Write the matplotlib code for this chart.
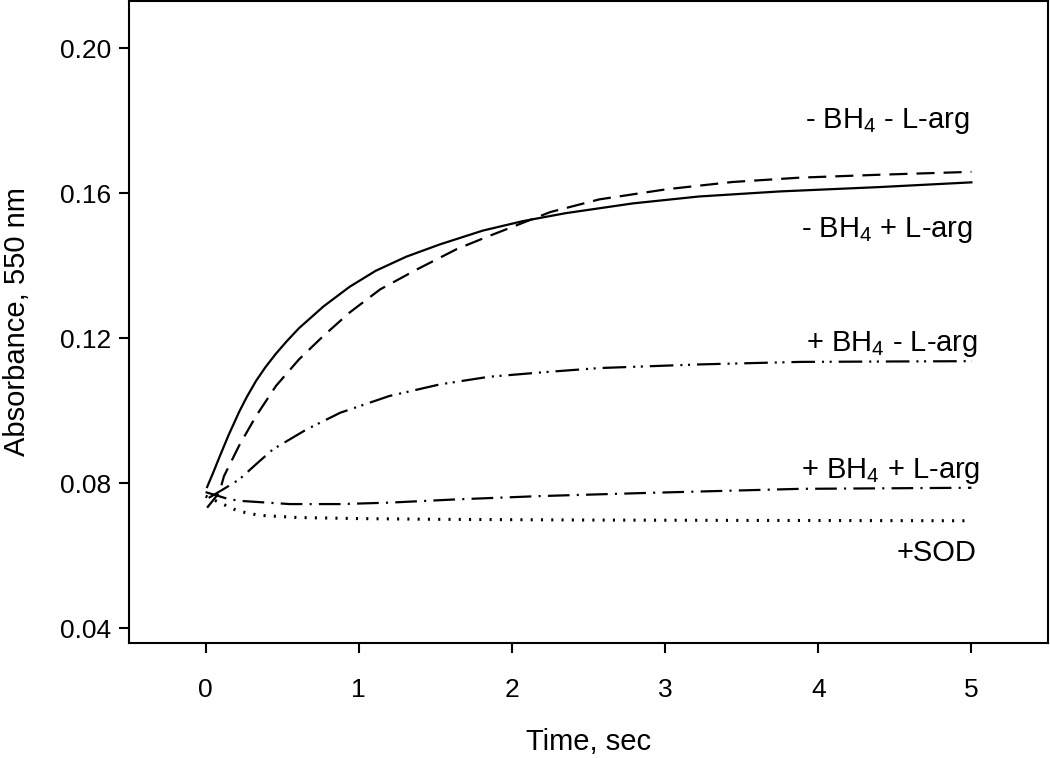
import matplotlib
matplotlib.use("Agg")
import matplotlib.pyplot as plt

plt.rcParams["font.family"] = ["Liberation Sans", "DejaVu Sans"]
plt.rcParams["mathtext.fontset"] = "custom"
plt.rcParams["mathtext.rm"] = "Liberation Sans"
plt.rcParams["mathtext.it"] = "Liberation Sans:italic"
plt.rcParams["mathtext.bf"] = "Liberation Sans:bold"
plt.rcParams["lines.scale_dashes"] = False

# - BH4 + L-arg (solid)
t_solid = [0.01, 0.05, 0.09, 0.15, 0.22, 0.27, 0.33, 0.39, 0.46, 0.53, 0.61,
           0.77, 0.94, 1.11, 1.31, 1.53, 1.81, 2.07, 2.35, 2.79, 3.22, 3.75,
           4.4, 5.0]
a_solid = [0.0790, 0.0830, 0.0872, 0.0933, 0.0998, 0.1039, 0.1083, 0.1120,
           0.1158, 0.1192, 0.1228, 0.1288, 0.1342, 0.1386, 0.1425, 0.1459,
           0.1497, 0.1523, 0.1545, 0.1572, 0.1591, 0.1605, 0.1617, 0.1630]

# - BH4 - L-arg (dashed)
t_dash = [0.01, 0.09, 0.12, 0.22, 0.33, 0.46, 0.61, 0.77, 0.94, 1.14, 1.38,
          1.64, 1.85, 1.96, 2.25, 2.57, 3.01, 3.44, 3.88, 4.4, 5.0]
a_dash = [0.0733, 0.0775, 0.0820, 0.0905, 0.0986, 0.1069, 0.1142, 0.1207,
          0.1271, 0.1335, 0.1390, 0.1446, 0.1482, 0.1500, 0.1548, 0.1583,
          0.1611, 0.1631, 0.1643, 0.1651, 0.1659]

# + BH4 - L-arg (dash dot dot)
t_ddd = [0.02, 0.12, 0.22, 0.33, 0.44, 0.66, 0.88, 1.2, 1.53, 1.85, 2.22,
         2.57, 3.22, 3.88, 4.4, 5.0]
a_ddd = [0.0760, 0.0785, 0.0811, 0.0853, 0.0894, 0.0949, 0.0995, 0.1041,
         0.1073, 0.1094, 0.1107, 0.1118, 0.1128, 0.1135, 0.1136, 0.1137]

# + BH4 + L-arg (dash dot)
t_dd = [0.0, 0.14, 0.22, 0.55, 0.88, 1.2, 1.64, 2.18, 2.9, 3.88, 5.0]
a_dd = [0.0776, 0.0758, 0.0752, 0.0743, 0.0743, 0.0747, 0.0756, 0.0765,
        0.0774, 0.0785, 0.0788]

# +SOD (dotted)
t_sod = [0.0, 0.21, 0.35, 0.6, 1.0, 1.5, 2.5, 3.5, 5.0]
a_sod = [0.0765, 0.0724, 0.0712, 0.0706, 0.0703, 0.0701, 0.0699, 0.0698, 0.0697]

labels = ["- BH$_4$ - L-arg", "- BH$_4$ + L-arg", "+ BH$_4$ - L-arg",
          "+ BH$_4$ + L-arg", "+SOD"]
label_t = [4.99, 5.01, 5.04, 5.06, 5.03]
label_a = [0.1780, 0.1480, 0.1164, 0.0815, 0.0585]

xticks = [0, 1, 2, 3, 4, 5]
yticks = [0.04, 0.08, 0.12, 0.16, 0.20]

fig = plt.figure(figsize=(10.5, 7.58), dpi=100)
ax = fig.add_axes([129 / 1050, 1 - 643 / 758, 919 / 1050, 642 / 758])

lw = 1.6
ax.plot(t_solid, a_solid, color="black", lw=lw, ls="-")
ax.plot(t_dash, a_dash, color="black", lw=lw, ls=(0, (13, 6.5)))
ax.plot(t_ddd, a_ddd, color="black", lw=lw,
        ls=(0, (17, 5, 1.5, 4, 1.5, 5)))
ax.plot(t_dd, a_dd, color="black", lw=lw, ls=(0, (15.6, 5.2, 1.5, 5.2)))
ax.plot(t_sod, a_sod, color="black", lw=2.2, ls=(0, (1.5, 5.9)),
        dash_capstyle="butt")

for txt, x, y in zip(labels, label_t, label_a):
    ax.text(x, y, txt, ha="right", va="baseline", fontsize=21)

ax.set_xlim(-0.5, 5.5)
ax.set_ylim(0.036, 0.213)
ax.set_xticks(xticks)
ax.set_xticklabels([str(v) for v in xticks])
ax.set_yticks(yticks)
ax.set_yticklabels([f"{v:.2f}" for v in yticks])

ax.tick_params(axis="y", direction="out", length=7, width=1.5, pad=6,
               labelsize=19)
ax.tick_params(axis="x", direction="out", length=7, width=1.5, pad=18,
               labelsize=19)
for sp in ax.spines.values():
    sp.set_linewidth(1.5)
    sp.set_color("black")

ax.set_xlabel("Time, sec", fontsize=21, labelpad=19)
ax.set_ylabel("Absorbance, 550 nm", fontsize=21, labelpad=21)

fig.savefig("out.png", dpi=100)
